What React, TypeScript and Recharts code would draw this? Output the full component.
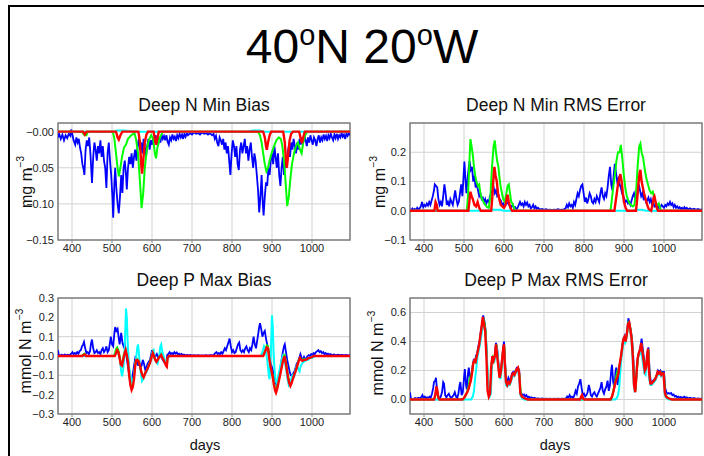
import { LineChart, Line, XAxis, YAxis, CartesianGrid, ReferenceArea } from "recharts";

type Pt = [number, number];

const dayDomain: [number, number] = [365, 1095];
const dayTicks = [400, 500, 600, 700, 800, 900, 1000];

const nMinBiasTicks = [-0.15, -0.1, -0.05, 0];
const nMinRmsTicks = [-0.1, 0, 0.1, 0.2];
const pMaxBiasTicks = [-0.3, -0.2, -0.1, 0, 0.1, 0.2, 0.3];
const pMaxRmsTicks = [0, 0.2, 0.4, 0.6];

// Deep N Min Bias
const nMinBiasBlue: Pt[] = [
  [365,-0.008],[368,-0.003],[372,-0.01],[376,-0.004],[380,-0.012],[384,-0.005],[388,-0.009],[392,-0.003],[396,-0.006],[398,0.003],
  [401,-0.004],[404,-0.012],[408,-0.018],[411,-0.008],[414,-0.015],[417,-0.01],[420,-0.022],[423,-0.03],[426,-0.045],[429,-0.052],
  [431,-0.06],[434,-0.025],[437,-0.012],[440,-0.02],[443,-0.008],[446,-0.03],[450,-0.071],[453,-0.035],[456,-0.015],[459,-0.025],
  [462,-0.04],[465,-0.02],[468,-0.03],[471,-0.012],[474,-0.035],[477,-0.02],[480,-0.04],[483,-0.05],[486,-0.078],[489,-0.03],
  [492,-0.015],[495,-0.04],[498,-0.06],[501,-0.09],[503,-0.119],[506,-0.07],[508,-0.05],[511,-0.08],[514,-0.1],[517,-0.113],
  [520,-0.09],[523,-0.06],[526,-0.085],[529,-0.05],[532,-0.04],[535,-0.06],[537,-0.08],[540,-0.05],[543,-0.035],[546,-0.045],
  [549,-0.03],[552,-0.05],[555,-0.035],[558,-0.025],[561,-0.04],[564,-0.02],[567,-0.01],[570,-0.025],[573,-0.015],[576,-0.03],
  [579,-0.01],[582,-0.02],[585,-0.035],[588,-0.02],[591,-0.01],[594,-0.025],[597,-0.012],[600,-0.018],[603,-0.008],[606,-0.015],
  [609,-0.005],[612,-0.012],[615,-0.02],[618,-0.008],[621,-0.015],[624,-0.004],[627,-0.01],[630,-0.006],[633,-0.012],[636,-0.005],
  [639,-0.014],[642,-0.018],[645,-0.008],[648,-0.012],[651,-0.004],[654,-0.01],[657,-0.007],[660,-0.013],[663,-0.005],[666,-0.009],
  [669,-0.003],[672,-0.008],[675,-0.004],[678,-0.01],[681,-0.003],[684,-0.007],[687,-0.002],[690,-0.005],[695,-0.002],[700,-0.004],
  [705,-0.001],[710,-0.003],[715,-0.002],[720,-0.004],[725,-0.001],[730,-0.003],[735,-0.002],[740,-0.004],[745,-0.002],[750,-0.005],
  [754,-0.003],[757,-0.01],[760,-0.006],[763,-0.015],[766,-0.02],[769,-0.008],[772,-0.012],[775,-0.018],[778,-0.01],[781,-0.025],
  [784,-0.015],[787,-0.03],[790,-0.02],[793,-0.04],[796,-0.06],[799,-0.03],[802,-0.012],[805,-0.02],[808,-0.035],[811,-0.02],
  [814,-0.045],[817,-0.053],[820,-0.025],[823,-0.015],[826,-0.03],[829,-0.02],[832,-0.01],[835,-0.03],[838,-0.02],[841,-0.04],
  [844,-0.025],[847,-0.015],[850,-0.035],[853,-0.05],[856,-0.03],[859,-0.04],[862,-0.06],[865,-0.08],[868,-0.112],[871,-0.09],
  [874,-0.06],[877,-0.1],[879,-0.116],[882,-0.09],[885,-0.07],[888,-0.075],[891,-0.05],[894,-0.06],[897,-0.04],[900,-0.03],
  [903,-0.045],[906,-0.02],[909,-0.035],[912,-0.05],[915,-0.03],[918,-0.06],[921,-0.075],[924,-0.05],[927,-0.035],[930,-0.06],
  [933,-0.04],[936,-0.05],[939,-0.03],[942,-0.02],[945,-0.035],[948,-0.015],[951,-0.025],[954,-0.01],[957,-0.02],[960,-0.03],
  [963,-0.015],[966,-0.025],[969,-0.01],[972,-0.018],[975,-0.008],[978,-0.015],[981,-0.005],[984,-0.012],[987,-0.02],[990,-0.008],
  [993,-0.015],[996,-0.005],[999,-0.012],[1002,-0.018],[1005,-0.008],[1008,-0.012],[1011,-0.02],[1014,-0.01],[1017,-0.005],[1020,-0.015],
  [1023,-0.008],[1026,-0.012],[1029,-0.004],[1032,-0.01],[1035,-0.006],[1038,-0.013],[1041,-0.005],[1044,-0.009],[1047,-0.003],[1050,-0.008],
  [1053,-0.012],[1056,-0.004],[1059,-0.009],[1062,-0.003],[1065,-0.01],[1068,-0.005],[1071,-0.008],[1074,-0.002],[1077,-0.007],[1080,-0.004],
  [1083,-0.01],[1086,-0.003],[1089,-0.006],[1092,-0.002],[1095,-0.005],
];
const nMinBiasGreen: Pt[] = [
  [365,0],[425,0],[430,-0.004],[436,-0.005],[440,0],[502,0],[506,-0.01],[510,-0.03],[514,-0.05],[517,-0.062],
  [521,-0.05],[525,-0.035],[530,-0.022],[535,-0.018],[540,-0.01],[548,-0.005],[556,-0.002],[560,-0.01],[565,-0.03],[570,-0.07],
  [574,-0.106],[578,-0.085],[582,-0.05],[587,-0.025],[592,-0.012],[598,-0.005],[603,-0.01],[607,-0.03],[610,-0.037],[614,-0.02],
  [620,-0.008],[627,0],[865,0],[870,-0.005],[874,-0.015],[878,-0.03],[882,-0.045],[886,-0.055],[890,-0.05],[894,-0.04],
  [899,-0.03],[905,-0.02],[911,-0.012],[917,-0.008],[922,-0.01],[926,-0.02],[930,-0.04],[934,-0.07],[938,-0.103],[942,-0.09],
  [946,-0.065],[950,-0.045],[955,-0.03],[960,-0.02],[965,-0.015],[970,-0.025],[974,-0.03],[978,-0.015],[983,-0.005],[988,0],[1095,0],
];
const nMinBiasCyan: Pt[] = [
  [365,0],[505,0],[512,0.0015],[530,0.0015],[560,0],[840,0],[850,0.0015],[870,0.0015],[880,0],[1095,0],
];
const nMinBiasRed: Pt[] = [
  [365,0],[428,0],[432,-0.004],[436,0],[510,0],[514,-0.008],[517,-0.011],[521,-0.005],[526,0],[566,0],
  [570,-0.015],[573,-0.045],[575,-0.058],[578,-0.04],[582,-0.015],[586,-0.004],[590,0],[604,0],[607,-0.01],[610,-0.018],
  [613,-0.01],[617,0],[878,0],[882,-0.008],[885,-0.02],[887,-0.025],[890,-0.015],[894,-0.005],[898,0],[928,0],
  [932,-0.015],[935,-0.04],[937,-0.05],[940,-0.035],[944,-0.012],[948,-0.003],[952,0],[968,0],[972,-0.01],[975,-0.016],
  [978,-0.008],[982,0],[1095,0],
];

// Deep N Min RMS Error
const nMinRmsBlue: Pt[] = [
  [365,0.005],[368,0.002],[371,0.008],[374,0.003],[377,0.006],[380,0.002],[383,0.01],[386,0.004],[389,0.008],[392,0.015],
  [395,0.03],[398,0.012],[401,0.02],[404,0.015],[407,0.025],[410,0.018],[413,0.03],[416,0.02],[419,0.035],[422,0.05],
  [425,0.07],[427,0.09],[430,0.085],[433,0.08],[436,0.04],[439,0.02],[442,0.03],[445,0.015],[448,0.05],[451,0.09],
  [454,0.06],[457,0.02],[460,0.03],[463,0.015],[466,0.04],[469,0.03],[472,0.02],[475,0.045],[478,0.07],[481,0.04],
  [484,0.02],[487,0.03],[490,0.06],[493,0.09],[496,0.05],[499,0.12],[501,0.168],[504,0.1],[506,0.06],[509,0.11],
  [512,0.15],[514,0.17],[517,0.14],[520,0.15],[523,0.1],[526,0.12],[529,0.08],[532,0.09],[535,0.07],[538,0.05],
  [541,0.06],[544,0.04],[547,0.045],[550,0.03],[553,0.04],[556,0.025],[559,0.035],[562,0.03],[565,0.05],[568,0.06],
  [571,0.07],[574,0.08],[577,0.06],[580,0.07],[583,0.05],[586,0.055],[589,0.04],[592,0.035],[595,0.02],[598,0.025],
  [601,0.015],[604,0.02],[607,0.03],[610,0.025],[613,0.02],[616,0.01],[619,0.015],[622,0.02],[625,0.008],[628,0.012],
  [631,0.005],[634,0.01],[637,0.02],[640,0.03],[643,0.02],[646,0.025],[649,0.015],[652,0.03],[655,0.02],[658,0.028],
  [661,0.015],[664,0.02],[667,0.008],[670,0.012],[673,0.02],[676,0.008],[679,0.015],[682,0.006],[685,0.01],[690,0.004],
  [695,0.006],[700,0.003],[705,0.005],[710,0.003],[715,0.004],[720,0.002],[725,0.004],[730,0.003],[735,0.005],[740,0.003],
  [745,0.004],[750,0.005],[754,0.008],[757,0.02],[760,0.012],[763,0.025],[766,0.015],[769,0.02],[772,0.01],[775,0.03],
  [778,0.02],[781,0.04],[784,0.06],[787,0.05],[790,0.07],[793,0.085],[796,0.09],[799,0.06],[802,0.03],[805,0.045],
  [808,0.025],[811,0.04],[814,0.06],[817,0.05],[820,0.03],[823,0.025],[826,0.04],[829,0.03],[832,0.05],[835,0.04],
  [838,0.03],[841,0.06],[844,0.08],[847,0.05],[850,0.04],[853,0.06],[856,0.05],[859,0.08],[862,0.12],[865,0.15],
  [868,0.09],[871,0.07],[874,0.12],[877,0.16],[880,0.13],[883,0.1],[886,0.11],[889,0.09],[892,0.08],[895,0.06],
  [898,0.05],[901,0.04],[904,0.03],[907,0.035],[910,0.025],[913,0.03],[916,0.02],[919,0.035],[922,0.05],[925,0.06],
  [928,0.04],[931,0.05],[934,0.07],[937,0.09],[940,0.07],[943,0.05],[946,0.06],[949,0.04],[952,0.045],[955,0.03],
  [958,0.035],[961,0.045],[964,0.03],[967,0.04],[970,0.02],[973,0.03],[976,0.015],[979,0.02],[982,0.01],[985,0.015],
  [988,0.008],[991,0.012],[994,0.02],[997,0.015],[1000,0.01],[1003,0.02],[1006,0.015],[1009,0.025],[1012,0.02],[1015,0.03],
  [1018,0.02],[1021,0.025],[1024,0.012],[1027,0.02],[1030,0.01],[1033,0.015],[1036,0.008],[1039,0.012],[1042,0.006],[1045,0.01],
  [1048,0.005],[1051,0.012],[1054,0.006],[1057,0.01],[1060,0.004],[1065,0.008],[1070,0.004],[1075,0.007],[1080,0.003],[1085,0.006],
  [1090,0.003],[1095,0.005],
];
const nMinRmsGreen: Pt[] = [
  [365,0],[507,0],[510,0.05],[513,0.15],[516,0.245],[519,0.22],[522,0.19],[525,0.15],[528,0.12],[531,0.1],
  [535,0.085],[538,0.09],[541,0.06],[545,0.04],[549,0.03],[553,0.02],[558,0.012],[562,0.01],[566,0.05],[570,0.15],
  [574,0.22],[577,0.24],[580,0.2],[583,0.17],[586,0.15],[589,0.11],[592,0.08],[595,0.06],[598,0.04],[602,0.03],
  [606,0.06],[609,0.085],[612,0.09],[615,0.06],[618,0.03],[621,0.025],[625,0.01],[629,0],[866,0],[869,0.03],
  [873,0.08],[877,0.12],[881,0.17],[885,0.2],[889,0.2],[892,0.225],[895,0.19],[899,0.13],[903,0.08],[907,0.05],
  [912,0.03],[917,0.02],[922,0.015],[926,0.02],[930,0.06],[934,0.15],[938,0.22],[941,0.23],[944,0.2],[948,0.18],
  [952,0.14],[956,0.11],[960,0.09],[964,0.07],[968,0.06],[972,0.065],[976,0.04],[980,0.025],[984,0.02],[987,0.025],
  [990,0.01],[993,0],[1095,0],
];
const nMinRmsCyan: Pt[] = [
  [365,0],[560,0],[570,0.003],[590,0.003],[600,0],[920,0],[930,0.003],[945,0.003],[955,0],[1095,0],
];
const nMinRmsRed: Pt[] = [
  [365,0],[426,0],[429,0.03],[432,0.02],[434,0],[511,0],[514,0.04],[516,0.065],[519,0.05],[522,0.04],
  [526,0.02],[530,0.015],[534,0.03],[538,0.01],[542,0],[568,0],[571,0.05],[574,0.12],[576,0.15],[579,0.12],
  [582,0.1],[585,0.06],[588,0.04],[592,0.02],[596,0.015],[600,0.01],[604,0.02],[607,0.045],[609,0.055],[612,0.03],
  [616,0.01],[620,0],[876,0],[879,0.03],[882,0.06],[885,0.09],[888,0.11],[891,0.125],[894,0.1],[897,0.06],
  [900,0.03],[904,0.01],[908,0],[930,0],[933,0.04],[936,0.09],[939,0.13],[941,0.14],[944,0.1],[947,0.08],
  [950,0.06],[954,0.04],[958,0.02],[962,0.005],[968,0],[971,0.02],[974,0.045],[976,0.05],[979,0.03],[982,0.01],
  [985,0],[1095,0],
];

// Deep P Max Bias
const pMaxBiasBlue: Pt[] = [
  [365,0.03],[367,0.005],[370,0.002],[374,0.006],[378,0.003],[382,0.008],[386,0.004],[390,0.007],[394,0.003],[398,0.012],
  [401,0.02],[404,0.008],[407,0.015],[410,0.01],[413,0.02],[416,0.012],[419,0.025],[422,0.03],[425,0.05],[428,0.06],
  [430,0.072],[433,0.04],[436,0.015],[439,0.02],[442,0.01],[445,0.025],[448,0.07],[450,0.085],[453,0.04],[456,0.015],
  [459,0.02],[462,0.03],[465,0.015],[468,0.02],[471,0.01],[474,0.03],[477,0.04],[480,0.02],[483,0.03],[486,0.05],
  [489,0.02],[492,0.03],[495,0.07],[497,0.1],[500,0.06],[503,0.05],[506,0.12],[508,0.15],[511,0.13],[514,0.14],
  [517,0.09],[519,0.06],[521,0.09],[523,0.12],[526,0.07],[529,0.05],[532,0.065],[535,0.02],[538,-0.03],[541,-0.07],
  [544,-0.11],[547,-0.13],[550,-0.12],[553,-0.08],[556,-0.04],[559,0],[562,-0.02],[565,-0.05],[568,-0.03],[571,-0.06],
  [574,-0.05],[577,-0.02],[580,-0.04],[583,-0.07],[586,-0.06],[589,-0.04],[592,-0.03],[595,-0.02],[598,0.01],[600,0.03],
  [603,0.01],[606,-0.01],[609,0],[612,0.01],[615,-0.005],[618,0],[621,0.01],[624,-0.01],[627,-0.02],[630,-0.03],
  [633,-0.035],[636,-0.04],[638,0.005],[641,0.01],[644,0.02],[647,0.01],[650,0.015],[653,0.008],[656,0.02],[659,0.012],
  [662,0.018],[665,0.008],[668,0.012],[671,0.005],[674,0.01],[677,0.004],[680,0.008],[684,0.003],[688,0.006],[692,0.003],
  [696,0.005],[700,0.002],[705,0.004],[710,0.002],[715,0.004],[720,0.002],[725,0.003],[730,0.002],[735,0.004],[740,0.002],
  [745,0.004],[750,0.003],[755,0.006],[758,0.015],[761,0.02],[764,0.01],[767,0.015],[770,0.008],[773,0.02],[776,0.012],
  [779,0.025],[782,0.04],[785,0.03],[788,0.05],[791,0.07],[794,0.09],[797,0.05],[800,0.02],[803,0.03],[806,0.015],
  [809,0.02],[812,0.04],[815,0.06],[818,0.07],[821,0.03],[824,0.02],[827,0.03],[830,0.02],[833,0.04],[836,0.05],
  [839,0.03],[842,0.02],[845,0.04],[848,0.03],[851,0.06],[854,0.1],[857,0.06],[860,0.04],[863,0.08],[866,0.12],
  [868,0.15],[870,0.17],[873,0.14],[876,0.1],[879,0.12],[882,0.13],[885,0.09],[888,0.06],[891,0.03],[894,-0.01],
  [897,-0.04],[900,-0.06],[903,-0.08],[906,-0.12],[909,-0.14],[912,-0.15],[915,-0.12],[918,-0.1],[921,-0.06],[924,-0.02],
  [927,0.02],[930,0.05],[932,0.06],[935,0.02],[938,-0.02],[941,-0.05],[944,-0.08],[947,-0.1],[950,-0.1],[953,-0.09],
  [956,-0.08],[959,-0.06],[962,-0.04],[965,-0.03],[968,-0.01],[971,0.01],[974,-0.01],[977,-0.02],[980,-0.005],[983,-0.02],
  [986,-0.01],[989,0],[992,0.005],[995,0],[998,0.01],[1001,0.005],[1004,0.015],[1007,0.01],[1010,0.02],[1013,0.025],
  [1016,0.03],[1019,0.02],[1022,0.025],[1025,0.015],[1028,0.02],[1031,0.01],[1034,0.015],[1037,0.008],[1040,0.012],[1043,0.006],
  [1046,0.01],[1050,0.005],[1055,0.008],[1060,0.004],[1065,0.007],[1070,0.004],[1075,0.006],[1080,0.003],[1085,0.005],[1090,0.003],
  [1095,0.004],
];
const pMaxBiasGreen: Pt[] = [
  [365,0],[424,0],[428,0.008],[431,0.012],[434,0.003],[437,0],[505,0],[508,0.02],[511,0.04],[513,0.045],
  [516,0.03],[519,0],[522,-0.04],[525,-0.05],[528,-0.01],[531,0.02],[534,0.03],[537,0.01],[540,-0.03],[543,-0.09],
  [546,-0.14],[549,-0.16],[552,-0.15],[555,-0.1],[558,-0.04],[561,-0.01],[564,-0.02],[567,-0.03],[570,-0.05],[573,-0.08],
  [576,-0.1],[579,-0.11],[582,-0.09],[585,-0.08],[588,-0.07],[591,-0.05],[595,-0.03],[599,0],[602,0.02],[605,0],
  [608,-0.02],[611,-0.03],[614,-0.02],[617,-0.01],[620,0],[623,0.01],[626,-0.01],[629,-0.02],[632,-0.03],[635,-0.045],
  [637,-0.05],[639,-0.01],[642,0],[878,0],[881,0.02],[884,0.04],[887,0.055],[890,0.05],[893,0],[896,-0.05],
  [899,-0.08],[902,-0.1],[905,-0.14],[908,-0.17],[910,-0.18],[913,-0.16],[916,-0.13],[919,-0.1],[922,-0.07],[925,-0.04],
  [928,-0.01],[931,0.01],[934,-0.02],[937,-0.06],[940,-0.1],[943,-0.13],[946,-0.14],[949,-0.13],[952,-0.11],[955,-0.1],
  [958,-0.08],[961,-0.06],[964,-0.04],[967,-0.02],[970,-0.01],[973,-0.02],[976,-0.02],[980,-0.015],[985,-0.02],[990,-0.01],
  [995,-0.01],[1000,-0.005],[1005,0],[1095,0],
];
const pMaxBiasCyan: Pt[] = [
  [365,0],[505,0],[509,0.015],[513,0.02],[517,0.005],[520,-0.02],[523,-0.08],[525,-0.105],[528,-0.07],[531,0],
  [533,0.12],[535,0.245],[537,0.2],[539,0.08],[541,0],[543,-0.06],[546,-0.1],[549,-0.13],[552,-0.14],[555,-0.1],
  [558,-0.05],[561,0],[563,0.04],[565,0.06],[567,0.02],[570,-0.05],[573,-0.1],[575,-0.13],[578,-0.12],[581,-0.1],
  [584,-0.09],[587,-0.08],[590,-0.06],[594,-0.04],[598,-0.02],[601,0.02],[604,0.03],[607,-0.01],[610,-0.03],[614,-0.04],
  [618,0],[621,0.05],[623,0.06],[626,0.02],[629,0],[632,-0.02],[635,-0.03],[638,-0.02],[642,-0.005],[646,0],
  [872,0],[876,0.02],[880,0.05],[884,0.03],[888,-0.02],[892,-0.1],[894,-0.12],[897,0],[899,0.15],[900,0.21],
  [902,0.15],[904,0.02],[906,-0.06],[909,-0.13],[912,-0.14],[915,-0.11],[918,-0.08],[921,-0.05],[924,-0.02],[927,0],
  [930,-0.01],[933,-0.04],[936,-0.08],[939,-0.12],[942,-0.15],[945,-0.14],[948,-0.12],[951,-0.1],[954,-0.11],[957,-0.1],
  [960,-0.06],[963,-0.05],[966,-0.07],[969,-0.08],[972,-0.05],[975,-0.04],[979,-0.03],[983,-0.025],[987,-0.02],[991,-0.02],
  [995,-0.01],[1000,-0.01],[1005,-0.003],[1010,0],[1095,0],
];
const pMaxBiasRed: Pt[] = [
  [365,0],[426,0],[429,0.006],[432,0.008],[435,0],[507,0],[510,0.015],[513,0.03],[516,0.02],[519,-0.01],
  [522,-0.045],[525,-0.05],[528,-0.02],[531,0.01],[534,0.03],[537,0.005],[540,-0.03],[543,-0.1],[546,-0.15],[549,-0.175],
  [552,-0.16],[555,-0.12],[558,-0.05],[561,-0.02],[564,-0.02],[567,-0.03],[570,-0.05],[573,-0.08],[576,-0.1],[579,-0.11],
  [582,-0.095],[585,-0.08],[588,-0.07],[591,-0.055],[595,-0.035],[599,-0.005],[602,0.015],[605,0],[608,-0.02],[611,-0.03],
  [614,-0.02],[617,-0.01],[620,0],[623,0.005],[626,-0.01],[629,-0.02],[632,-0.035],[635,-0.05],[637,-0.055],[639,-0.01],
  [642,0],[878,0],[881,0.015],[884,0.03],[887,0.045],[890,0.04],[893,-0.01],[896,-0.05],[899,-0.08],[902,-0.11],
  [905,-0.15],[908,-0.18],[910,-0.19],[913,-0.17],[916,-0.14],[919,-0.11],[922,-0.08],[925,-0.05],[928,-0.02],[931,0],
  [934,-0.03],[937,-0.07],[940,-0.11],[943,-0.14],[946,-0.155],[949,-0.14],[952,-0.12],[955,-0.1],[958,-0.085],[961,-0.065],
  [964,-0.045],[967,-0.025],[970,-0.01],[973,-0.02],[976,-0.025],[980,-0.02],[985,-0.02],[990,-0.012],[995,-0.01],[1000,-0.005],
  [1005,0],[1095,0],
];

// Deep P Max RMS Error
const pMaxRmsBlue: Pt[] = [
  [365,0.05],[367,0.01],[370,0],[374,0.005],[378,0.01],[382,0.005],[386,0.012],[390,0.008],[394,0.02],[396,0.03],
  [399,0.01],[402,0.02],[405,0.01],[408,0.015],[411,0.01],[414,0.02],[417,0.015],[420,0.04],[423,0.08],[425,0.12],
  [428,0.13],[430,0.15],[433,0.05],[436,0.02],[439,0.01],[442,0.02],[445,0.05],[448,0.12],[450,0.11],[453,0.03],
  [456,0.015],[459,0.03],[462,0.04],[465,0.02],[468,0.01],[471,0.02],[474,0.03],[477,0.05],[480,0.02],[483,0.01],
  [486,0.04],[489,0.1],[491,0.12],[494,0.03],[497,0.05],[500,0.15],[502,0.21],[505,0.1],[507,0.07],[510,0.18],
  [512,0.22],[515,0.14],[518,0.16],[521,0.22],[524,0.27],[527,0.26],[530,0.3],[533,0.32],[536,0.37],[539,0.4],
  [542,0.47],[545,0.52],[548,0.58],[551,0.54],[554,0.48],[557,0.3],[560,0.08],[563,0.03],[566,0.06],[569,0.25],
  [571,0.3],[574,0.26],[577,0.3],[580,0.39],[583,0.35],[586,0.26],[589,0.16],[592,0.2],[595,0.26],[598,0.36],
  [600,0.4],[602,0.3],[605,0.13],[608,0.12],[611,0.15],[614,0.13],[617,0.14],[620,0.18],[623,0.19],[626,0.18],
  [629,0.2],[632,0.22],[635,0.22],[638,0.2],[641,0.05],[644,0.04],[647,0.03],[650,0.035],[653,0.02],[656,0.03],
  [659,0.015],[662,0.02],[665,0.01],[668,0.015],[672,0.008],[676,0.012],[680,0.006],[685,0.008],[690,0.005],[695,0.007],
  [700,0.004],[705,0.006],[710,0.004],[715,0.005],[720,0.003],[725,0.005],[730,0.004],[735,0.006],[740,0.004],[745,0.006],
  [750,0.005],[755,0.008],[758,0.02],[761,0.01],[764,0.03],[767,0.015],[770,0.02],[773,0.01],[776,0.03],[779,0.06],
  [782,0.04],[785,0.09],[788,0.11],[791,0.14],[794,0.08],[797,0.03],[800,0.04],[803,0.02],[806,0.03],[809,0.05],
  [812,0.1],[814,0.08],[817,0.03],[820,0.02],[823,0.04],[826,0.05],[829,0.03],[832,0.02],[835,0.04],[838,0.06],
  [841,0.08],[844,0.12],[847,0.06],[850,0.04],[853,0.07],[856,0.09],[859,0.13],[862,0.06],[865,0.1],[868,0.2],
  [870,0.24],[873,0.12],[876,0.08],[879,0.2],[881,0.22],[884,0.1],[887,0.17],[890,0.25],[893,0.3],[896,0.38],
  [899,0.42],[902,0.44],[905,0.42],[908,0.48],[911,0.56],[914,0.52],[917,0.48],[920,0.42],[923,0.3],[926,0.12],
  [929,0.07],[932,0.2],[935,0.3],[938,0.33],[941,0.36],[944,0.42],[947,0.35],[950,0.28],[953,0.22],[956,0.24],
  [959,0.33],[961,0.36],[964,0.2],[967,0.12],[970,0.12],[973,0.13],[976,0.14],[979,0.15],[982,0.17],[985,0.2],
  [988,0.19],[991,0.2],[994,0.18],[997,0.19],[1000,0.19],[1003,0.08],[1006,0.05],[1009,0.04],[1012,0.045],[1015,0.04],
  [1018,0.045],[1021,0.03],[1024,0.035],[1027,0.02],[1030,0.025],[1033,0.015],[1036,0.02],[1039,0.012],[1042,0.018],[1045,0.01],
  [1048,0.015],[1051,0.02],[1054,0.01],[1057,0.015],[1060,0.008],[1065,0.012],[1070,0.006],[1075,0.01],[1080,0.005],[1085,0.008],
  [1090,0.004],[1095,0.006],
];
const pMaxRmsGreen: Pt[] = [
  [365,0],[426,0],[429,0.03],[431,0.08],[434,0.05],[437,0],[498,0],[503,0.02],[508,0.05],[512,0.1],
  [515,0.15],[518,0.17],[521,0.2],[524,0.26],[527,0.27],[530,0.28],[533,0.31],[536,0.35],[539,0.39],[542,0.45],
  [545,0.5],[548,0.56],[551,0.53],[554,0.47],[557,0.3],[560,0.06],[563,0.03],[566,0.05],[569,0.25],[572,0.29],
  [575,0.27],[578,0.32],[581,0.38],[584,0.29],[587,0.2],[590,0.15],[593,0.2],[596,0.3],[599,0.36],[601,0.36],
  [603,0.22],[606,0.11],[609,0.1],[612,0.12],[615,0.11],[618,0.14],[621,0.17],[624,0.18],[627,0.18],[630,0.2],
  [633,0.21],[636,0.21],[639,0.16],[642,0.04],[646,0.015],[652,0.005],[658,0],[868,0],[872,0.04],[876,0.1],
  [880,0.15],[884,0.2],[887,0.21],[890,0.25],[893,0.3],[896,0.37],[899,0.42],[902,0.42],[905,0.41],[908,0.46],
  [911,0.53],[914,0.52],[917,0.47],[920,0.41],[923,0.25],[926,0.09],[929,0.06],[932,0.2],[935,0.29],[938,0.32],
  [941,0.35],[944,0.38],[947,0.31],[950,0.25],[953,0.2],[956,0.24],[959,0.32],[961,0.33],[964,0.15],[967,0.11],
  [970,0.11],[973,0.12],[976,0.13],[979,0.15],[982,0.17],[985,0.18],[988,0.18],[991,0.19],[994,0.17],[997,0.18],
  [1000,0.17],[1003,0.04],[1007,0.015],[1012,0.005],[1018,0],[1095,0],
];
const pMaxRmsCyan: Pt[] = [
  [365,0],[518,0],[522,0.02],[525,0.06],[528,0.15],[531,0.22],[534,0.3],[537,0.34],[540,0.38],[543,0.43],
  [546,0.5],[549,0.52],[552,0.48],[555,0.42],[558,0.25],[561,0.04],[564,0.02],[567,0.04],[570,0.24],[573,0.26],
  [576,0.26],[579,0.33],[582,0.36],[585,0.26],[588,0.18],[591,0.14],[594,0.21],[597,0.3],[600,0.35],[602,0.22],
  [605,0.1],[608,0.09],[611,0.1],[614,0.1],[617,0.12],[620,0.15],[623,0.16],[626,0.16],[629,0.18],[632,0.2],
  [635,0.2],[638,0.15],[641,0.03],[645,0.01],[650,0],[878,0],[882,0.01],[885,0.03],[888,0.08],[891,0.2],
  [894,0.3],[897,0.36],[900,0.4],[903,0.39],[906,0.43],[909,0.5],[912,0.52],[915,0.47],[918,0.43],[921,0.32],
  [924,0.12],[927,0.05],[930,0.14],[933,0.26],[936,0.3],[939,0.31],[942,0.36],[945,0.3],[948,0.24],[951,0.18],
  [954,0.17],[957,0.28],[960,0.32],[963,0.14],[966,0.1],[969,0.1],[972,0.11],[975,0.12],[978,0.13],[981,0.15],
  [984,0.17],[987,0.17],[990,0.18],[993,0.16],[996,0.17],[999,0.17],[1002,0.03],[1006,0.01],[1012,0],[1095,0],
];
const pMaxRmsRed: Pt[] = [
  [365,0],[425,0],[428,0.03],[431,0.09],[433,0.07],[436,0.01],[439,0],[496,0],[500,0.01],[504,0.03],
  [508,0.05],[511,0.07],[514,0.1],[517,0.13],[520,0.18],[523,0.25],[526,0.27],[529,0.26],[532,0.3],[535,0.34],
  [538,0.38],[541,0.44],[544,0.5],[547,0.57],[550,0.52],[553,0.47],[556,0.3],[559,0.06],[562,0.02],[565,0.04],
  [568,0.22],[571,0.3],[574,0.27],[577,0.3],[580,0.38],[583,0.3],[586,0.22],[589,0.15],[592,0.19],[595,0.27],
  [598,0.35],[600,0.38],[602,0.25],[605,0.12],[608,0.1],[611,0.12],[614,0.11],[617,0.13],[620,0.17],[623,0.18],
  [626,0.17],[629,0.19],[632,0.21],[635,0.22],[638,0.18],[641,0.04],[645,0.02],[650,0.01],[655,0.005],[660,0],
  [790,0],[793,0.02],[795,0.03],[798,0.005],[801,0],[866,0],[870,0.02],[874,0.06],[877,0.1],[880,0.13],
  [883,0.15],[886,0.18],[889,0.24],[892,0.29],[895,0.35],[898,0.41],[901,0.43],[904,0.4],[907,0.45],[910,0.52],
  [913,0.53],[916,0.48],[919,0.42],[922,0.3],[925,0.1],[928,0.05],[931,0.17],[934,0.28],[937,0.32],[940,0.34],
  [943,0.39],[946,0.33],[949,0.27],[952,0.2],[955,0.22],[958,0.31],[960,0.35],[963,0.18],[966,0.11],[969,0.11],
  [972,0.12],[975,0.13],[978,0.14],[981,0.16],[984,0.19],[987,0.18],[990,0.19],[993,0.17],[996,0.18],[999,0.18],
  [1002,0.05],[1005,0.02],[1010,0.01],[1015,0.005],[1020,0],[1095,0],
];

const FONT = "'Liberation Sans', Arial, Helvetica, sans-serif";

const fmt = (digits: number, negZero: boolean) => (v: number) => {
  const s = Math.abs(v).toFixed(digits);
  return v < 0 || (v === 0 && negZero) ? "\u2212" + s : s;
};

type PanelProps = {
  left: number;
  top: number;
  width: number;
  marginRight: number;
  xAxisHeight: number;
  domain: [number, number];
  ticks: number[];
  format: (v: number) => string;
  blue: Pt[];
  green: Pt[];
  cyan: Pt[];
  red: Pt[];
};

const toRows = (pts: Pt[]) => pts.map(([day, v]) => ({ day, v }));

const Panel = (p: PanelProps) => {
  const lines = [
    { name: "blue", pts: p.blue, color: "#0000ff", w: 1.8 },
    { name: "green", pts: p.green, color: "#00ff00", w: 2 },
    { name: "cyan", pts: p.cyan, color: "#00ffff", w: 2 },
    { name: "red", pts: p.red, color: "#ff0000", w: 2.4 },
  ];
  return (
    <div style={{ position: "absolute", left: p.left, top: p.top }}>
      <LineChart
        width={p.width}
        height={150}
        margin={{ top: 8, right: p.marginRight, left: 0, bottom: 0 }}
        style={{ fontFamily: FONT }}
      >
        <CartesianGrid stroke="#d2d2d2" strokeWidth={1} />
        <XAxis
          type="number"
          dataKey="day"
          domain={dayDomain}
          ticks={dayTicks}
          allowDataOverflow
          height={p.xAxisHeight}
          axisLine={false}
          tickSize={3}
          tickMargin={1}
          tickLine={{ stroke: "#888" }}
          tick={{ fontSize: 11, fill: "#222" }}
        />
        <YAxis
          type="number"
          domain={p.domain}
          ticks={p.ticks}
          allowDataOverflow
          width={58}
          axisLine={false}
          tickLine={false}
          tickSize={2}
          tickMargin={2}
          tickFormatter={p.format}
          tick={{ fontSize: 11, fill: "#222" }}
        />
        <ReferenceArea
          x1={dayDomain[0]}
          x2={dayDomain[1]}
          y1={p.domain[0]}
          y2={p.domain[1]}
          fill="none"
          stroke="#808080"
          strokeWidth={1.5}
          ifOverflow="visible"
        />
        {lines.map((l) => (
          <Line
            key={l.name}
            data={toRows(l.pts)}
            dataKey="v"
            type="linear"
            stroke={l.color}
            strokeWidth={l.w}
            dot={false}
            activeDot={false}
            isAnimationActive={false}
          />
        ))}
      </LineChart>
    </div>
  );
};

const YLabel = ({ x, y, text }: { x: number; y: number; text: string }) => (
  <text
    x={x}
    y={y}
    transform={`rotate(-90 ${x} ${y})`}
    textAnchor="middle"
    dominantBaseline="central"
    fontSize={16}
    fill="#111"
  >
    {text}
    <tspan dy={-6} fontSize={10.5}>
      {"\u22123"}
    </tspan>
  </text>
);

export default function App() {
  return (
    <div
      style={{
        position: "absolute",
        left: 0,
        top: 0,
        width: 704,
        height: 456,
        background: "#fff",
        fontFamily: FONT,
        overflow: "hidden",
      }}
    >
      <div
        style={{
          position: "absolute",
          left: 8,
          top: 5,
          width: 700,
          height: 460,
          borderTop: "2px solid #000",
          borderLeft: "2px solid #000",
        }}
      />
      <Panel left={0} top={115} width={360} marginRight={10} xAxisHeight={25}
        domain={[-0.15, 0.012]} ticks={nMinBiasTicks} format={fmt(2, true)}
        blue={nMinBiasBlue} green={nMinBiasGreen} cyan={nMinBiasCyan} red={nMinBiasRed} />
      <Panel left={352} top={115} width={352} marginRight={2} xAxisHeight={25}
        domain={[-0.1, 0.3]} ticks={nMinRmsTicks} format={fmt(1, false)}
        blue={nMinRmsBlue} green={nMinRmsGreen} cyan={nMinRmsCyan} red={nMinRmsRed} />
      <Panel left={0} top={290} width={360} marginRight={10} xAxisHeight={26}
        domain={[-0.3, 0.3]} ticks={pMaxBiasTicks} format={fmt(1, true)}
        blue={pMaxBiasBlue} green={pMaxBiasGreen} cyan={pMaxBiasCyan} red={pMaxBiasRed} />
      <Panel left={352} top={290} width={352} marginRight={2} xAxisHeight={26}
        domain={[-0.1, 0.7]} ticks={pMaxRmsTicks} format={fmt(1, false)}
        blue={pMaxRmsBlue} green={pMaxRmsGreen} cyan={pMaxRmsCyan} red={pMaxRmsRed} />
      <svg
        width={704}
        height={456}
        style={{ position: "absolute", left: 0, top: 0, pointerEvents: "none", fontFamily: FONT }}
      >
        <text x={362} y={63} textAnchor="middle" fontSize={48} fill="#000">
          40<tspan dy={-18} fontSize={29}>o</tspan>
          <tspan dy={18}>N 20</tspan>
          <tspan dy={-18} fontSize={29}>o</tspan>
          <tspan dy={18}>W</tspan>
        </text>
        <text x={204} y={111} textAnchor="middle" fontSize={17.5} fill="#111">Deep N Min Bias</text>
        <text x={556} y={111} textAnchor="middle" fontSize={17.5} fill="#111">Deep N Min RMS Error</text>
        <text x={204} y={286} textAnchor="middle" fontSize={17.5} fill="#111">Deep P Max Bias</text>
        <text x={556} y={286} textAnchor="middle" fontSize={17.5} fill="#111">Deep P Max RMS Error</text>
        <YLabel x={26} y={182} text="mg m" />
        <YLabel x={379} y={182} text="mg m" />
        <YLabel x={25} y={351} text="mmol N m" />
        <YLabel x={377} y={353} text="mmol N m" />
        <text x={205} y={450} textAnchor="middle" fontSize={14.5} fill="#111">days</text>
        <text x={555} y={450} textAnchor="middle" fontSize={14.5} fill="#111">days</text>
      </svg>
    </div>
  );
}
